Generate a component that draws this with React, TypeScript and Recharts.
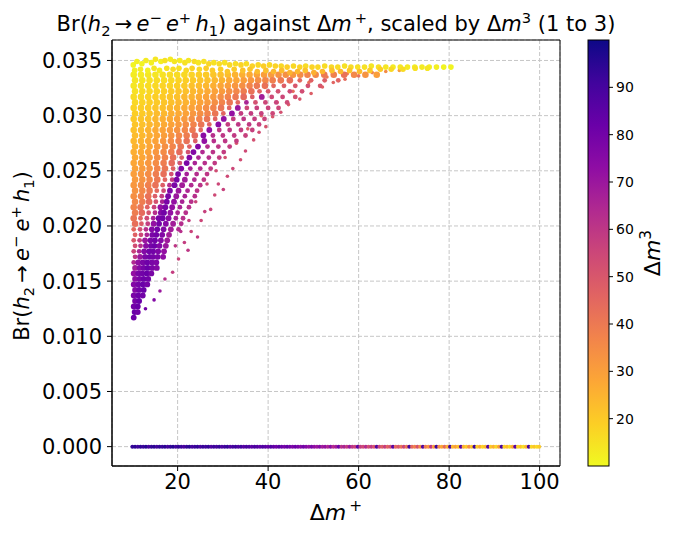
import { ScatterChart, Scatter, XAxis, YAxis, CartesianGrid, ReferenceArea } from "recharts";

const xTicks = [20, 40, 60, 80, 100];
const yTicks = [0, 0.005, 0.01, 0.015, 0.02, 0.025, 0.03, 0.035];
const colorTicks = [20, 30, 40, 50, 60, 70, 80, 90];

// [Δm+, Br, Δm3] - the thin saturated strip along the top
const topBand: [number, number, number][] = [
  [10.2, 0.0346, 11], [11.0, 0.0349, 12], [12.1, 0.0347, 11], [13.0, 0.035, 13], [14.2, 0.0348, 12],
  [15.1, 0.0351, 14], [16.3, 0.0349, 12], [17.2, 0.035, 15], [18.4, 0.0351, 13], [19.3, 0.0349, 14],
  [20.5, 0.035, 13], [21.6, 0.0348, 15], [22.4, 0.035, 14], [23.7, 0.0349, 16], [24.6, 0.0348, 14],
  [25.8, 0.0349, 15], [26.9, 0.0347, 17], [28.0, 0.0348, 15], [29.2, 0.0347, 16], [30.4, 0.0348, 15],
  [31.5, 0.0346, 17], [32.8, 0.0347, 16], [34.0, 0.0346, 18], [35.2, 0.0347, 16], [36.5, 0.0345, 18],
  [37.8, 0.0346, 17], [39.0, 0.0345, 19], [40.3, 0.0346, 17], [41.6, 0.0345, 18], [42.9, 0.0345, 17],
  [44.2, 0.0344, 19], [45.6, 0.0345, 17], [47.0, 0.0344, 18], [48.3, 0.0345, 16], [49.7, 0.0344, 18],
  [51.0, 0.0344, 17], [52.5, 0.0345, 16], [54.0, 0.0344, 17], [55.4, 0.0344, 16], [56.9, 0.0345, 15],
  [58.3, 0.0344, 16], [59.8, 0.0344, 15], [61.3, 0.0344, 15], [62.8, 0.0345, 14], [64.4, 0.0344, 15],
  [66.0, 0.0344, 14], [67.6, 0.0344, 13], [69.2, 0.0344, 14], [70.8, 0.0344, 13], [72.4, 0.0344, 12],
  [74.0, 0.0344, 13], [75.6, 0.0344, 12], [77.2, 0.0344, 12], [78.8, 0.0344, 11], [80.4, 0.0344, 11],
  [10.5, 0.0341, 12], [11.8, 0.0342, 13], [13.4, 0.0341, 12], [14.8, 0.0343, 14], [16.0, 0.0341, 13],
  [17.6, 0.0343, 15], [19.0, 0.0342, 16], [20.3, 0.0343, 15], [21.9, 0.0341, 17], [23.2, 0.0343, 18],
  [24.8, 0.0342, 17], [26.3, 0.0343, 19], [27.7, 0.0341, 20], [29.5, 0.0342, 19], [31.0, 0.034, 21],
  [32.5, 0.0342, 20], [34.4, 0.0341, 22], [36.0, 0.0342, 21], [37.6, 0.034, 23], [39.5, 0.0341, 22],
  [41.2, 0.034, 24], [43.0, 0.0341, 23], [44.8, 0.0339, 25], [46.5, 0.034, 24], [48.2, 0.0341, 22],
  [50.1, 0.0339, 26], [52.0, 0.034, 24], [54.1, 0.0341, 22], [56.0, 0.034, 24], [58.0, 0.0341, 21],
  [60.2, 0.034, 23], [62.5, 0.0341, 20], [64.8, 0.0342, 19], [67.2, 0.0342, 17], [69.8, 0.0342, 16],
  [72.5, 0.0343, 15], [75.2, 0.0343, 14],
];

// main cloud, read row by row: [Br, [[Δm+, Δm3], ...]]
const cloudRows: [number, [number, number][]][] = [
  [0.0337, [[10.3, 13], [11.9, 13], [13.5, 14], [15.1, 14], [16.7, 15], [18.3, 16], [19.9, 16], [21.5, 17], [23.1, 18], [24.7, 19], [26.3, 20], [27.9, 21], [29.5, 22], [31.1, 23], [32.7, 25], [34.3, 26], [35.9, 27], [37.5, 29], [39.1, 30], [40.7, 31], [42.3, 33], [43.9, 34], [45.5, 32], [47.1, 35], [48.7, 37], [50.5, 36], [52.4, 40], [54.5, 38], [56.8, 42], [59.0, 36], [61.5, 33], [64.0, 30]]],
  [0.0332, [[10.6, 14], [12.2, 14], [13.8, 15], [15.4, 16], [17.0, 16], [18.6, 17], [20.2, 18], [21.8, 19], [23.4, 20], [25.0, 21], [26.6, 22], [28.2, 24], [29.8, 25], [31.4, 27], [33.0, 28], [34.6, 30], [36.2, 32], [37.8, 34], [39.4, 36], [41.0, 38], [42.8, 40], [44.8, 43], [47.0, 45], [49.5, 47], [52.5, 48], [55.5, 46]]],
  [0.0327, [[10.3, 14], [11.9, 15], [13.5, 16], [15.1, 17], [16.7, 18], [18.3, 18], [19.9, 19], [21.5, 20], [23.1, 22], [24.7, 23], [26.3, 24], [27.9, 26], [29.5, 28], [31.1, 30], [32.7, 32], [34.3, 34], [35.9, 37], [37.5, 40], [39.3, 42], [41.2, 45], [43.5, 48], [46.0, 50], [48.8, 52], [51.5, 50]]],
  [0.0322, [[10.6, 15], [12.2, 16], [13.8, 17], [15.4, 18], [17.0, 19], [18.6, 20], [20.2, 21], [21.8, 22], [23.4, 24], [25.0, 25], [26.6, 27], [28.2, 29], [29.8, 31], [31.4, 34], [33.0, 36], [34.6, 39], [36.3, 42], [38.1, 46], [40.0, 50], [42.2, 52], [44.8, 54], [47.5, 53]]],
  [0.0317, [[10.3, 16], [11.9, 17], [13.5, 18], [15.1, 19], [16.7, 20], [18.3, 21], [19.9, 22], [21.5, 24], [23.1, 25], [24.7, 27], [26.3, 29], [27.9, 31], [29.5, 34], [31.1, 37], [32.8, 40], [34.6, 44], [36.5, 48], [38.6, 68], [40.8, 54], [43.2, 55], [46.0, 52]]],
  [0.0312, [[10.6, 17], [12.2, 18], [13.8, 19], [15.4, 20], [17.0, 21], [18.6, 22], [20.2, 24], [21.8, 25], [23.4, 27], [25.0, 29], [26.6, 31], [28.2, 34], [29.8, 37], [31.5, 41], [33.3, 45], [35.2, 66], [37.2, 52], [39.4, 55], [41.8, 56], [44.2, 54]]],
  [0.0307, [[10.3, 18], [11.9, 19], [13.5, 20], [15.1, 21], [16.7, 22], [18.3, 24], [19.9, 25], [21.5, 27], [23.1, 29], [24.7, 31], [26.3, 34], [27.9, 37], [29.6, 41], [31.4, 46], [33.3, 70], [35.3, 55], [37.5, 57], [40.0, 56], [42.3, 55]]],
  [0.0302, [[10.6, 19], [12.2, 20], [13.8, 21], [15.4, 23], [17.0, 24], [18.6, 26], [20.2, 27], [21.8, 29], [23.4, 32], [25.0, 34], [26.6, 37], [28.3, 41], [30.1, 46], [32.0, 72], [34.0, 58], [36.2, 58], [38.5, 57], [41.0, 55]]],
  [0.0297, [[10.3, 20], [11.9, 21], [13.5, 22], [15.1, 24], [16.7, 26], [18.3, 27], [19.9, 29], [21.5, 31], [23.1, 34], [24.8, 37], [26.5, 41], [28.3, 46], [30.2, 72], [32.3, 58], [34.6, 60], [37.0, 58], [39.2, 56]]],
  [0.0292, [[10.6, 21], [12.2, 22], [13.8, 24], [15.4, 25], [17.0, 27], [18.6, 29], [20.2, 31], [21.8, 34], [23.5, 37], [25.2, 41], [27.0, 46], [29.0, 74], [31.1, 58], [33.4, 60], [35.8, 59], [38.0, 57]]],
  [0.0287, [[10.3, 22], [11.9, 23], [13.5, 25], [15.1, 27], [16.7, 29], [18.3, 31], [19.9, 33], [21.6, 36], [23.3, 40], [25.1, 45], [27.0, 72], [29.2, 60], [31.5, 60], [34.0, 58], [36.5, 57]]],
  [0.0282, [[10.6, 23], [12.2, 24], [13.8, 26], [15.4, 28], [17.0, 30], [18.6, 33], [20.3, 36], [22.0, 39], [23.8, 44], [25.7, 74], [27.8, 62], [30.0, 60], [32.5, 59], [35.0, 57]]],
  [0.0277, [[10.3, 24], [11.9, 25], [13.5, 27], [15.1, 29], [16.8, 32], [18.5, 35], [20.2, 38], [22.0, 42], [23.9, 48], [25.9, 72], [28.0, 62], [30.5, 60], [33.0, 58]]],
  [0.0272, [[10.6, 25], [12.2, 26], [13.8, 28], [15.5, 31], [17.2, 34], [18.9, 37], [20.7, 41], [22.6, 47], [24.5, 76], [26.6, 63], [29.0, 60], [31.5, 58]]],
  [0.0267, [[10.3, 26], [11.9, 27], [13.5, 29], [15.2, 32], [16.9, 35], [18.6, 39], [20.4, 44], [22.3, 52], [23.5, 76], [25.5, 64], [27.8, 61], [30.2, 58]]],
  [0.0262, [[10.6, 27], [12.2, 28], [13.8, 31], [15.5, 34], [17.2, 37], [19.0, 42], [20.9, 48], [22.6, 76], [24.6, 65], [26.9, 62], [29.2, 58]]],
  [0.0257, [[10.3, 28], [11.9, 29], [13.5, 32], [15.2, 35], [16.9, 39], [18.7, 44], [20.5, 52], [22.0, 78], [23.8, 66], [26.0, 62], [28.2, 59]]],
  [0.0252, [[10.6, 29], [12.2, 31], [13.8, 33], [15.5, 37], [17.2, 41], [19.0, 47], [20.8, 76], [22.8, 66], [25.0, 63], [27.3, 59]]],
  [0.0247, [[10.3, 30], [11.9, 32], [13.5, 35], [15.2, 39], [16.9, 43], [18.6, 52], [20.1, 78], [22.0, 67], [24.2, 63], [26.5, 60]]],
  [0.0242, [[10.6, 31], [12.2, 33], [13.8, 36], [15.5, 40], [17.2, 46], [18.8, 58], [19.8, 78], [21.6, 68], [23.7, 64], [25.8, 60]]],
  [0.0237, [[10.3, 32], [11.9, 34], [13.5, 38], [15.1, 42], [16.7, 48], [18.2, 62], [19.3, 78], [21.0, 68], [23.0, 64], [25.0, 61]]],
  [0.0232, [[10.6, 33], [12.2, 36], [13.8, 40], [15.4, 45], [16.9, 54], [18.3, 77], [20.2, 70], [22.2, 65], [24.3, 61]]],
  [0.0227, [[10.3, 34], [11.9, 37], [13.5, 42], [15.0, 48], [16.5, 58], [17.9, 78], [19.7, 70], [21.6, 66], [23.8, 62]]],
  [0.0222, [[10.6, 36], [12.2, 39], [13.7, 44], [15.2, 52], [16.6, 66], [17.6, 78], [19.2, 72], [21.0, 66], [23.0, 62]]],
  [0.0217, [[10.3, 37], [11.8, 41], [13.3, 47], [14.8, 56], [16.2, 72], [17.3, 78], [18.8, 72], [20.5, 66], [22.5, 62]]],
  [0.0212, [[10.6, 39], [12.1, 44], [13.6, 51], [15.0, 62], [16.3, 76], [17.0, 80], [18.4, 72], [20.0, 66], [21.8, 62]]],
  [0.0207, [[10.3, 41], [11.8, 46], [13.2, 54], [14.6, 66], [15.8, 78], [16.7, 80], [18.0, 74], [19.6, 67], [21.2, 62]]],
  [0.0202, [[10.6, 43], [12.0, 49], [13.4, 58], [14.7, 72], [15.9, 79], [17.4, 75], [19.0, 68], [20.8, 63]]],
  [0.0197, [[10.3, 45], [11.7, 52], [13.0, 62], [14.3, 76], [15.5, 80], [16.9, 76], [18.5, 68], [20.2, 64]]],
  [0.0192, [[10.6, 47], [11.9, 55], [13.2, 66], [14.4, 78], [15.3, 80], [16.6, 76], [18.1, 68]]],
  [0.0187, [[10.3, 50], [11.6, 58], [12.8, 70], [14.0, 78], [15.0, 80], [16.3, 75], [17.7, 69]]],
  [0.0182, [[10.6, 53], [11.8, 62], [13.0, 74], [14.1, 79], [14.9, 81], [16.0, 76], [17.4, 70]]],
  [0.0177, [[10.3, 56], [11.5, 66], [12.6, 76], [13.7, 80], [14.6, 80], [15.7, 77], [17.0, 72]]],
  [0.0172, [[10.6, 60], [11.7, 70], [12.8, 78], [13.8, 80], [14.6, 79], [15.6, 78], [16.8, 73]]],
  [0.0167, [[10.3, 64], [11.3, 72], [12.3, 78], [13.3, 81], [14.3, 78], [15.3, 77]]],
  [0.0162, [[10.6, 68], [11.6, 75], [12.5, 79], [13.4, 82], [14.4, 78], [15.4, 76]]],
  [0.0157, [[10.3, 72], [11.3, 78], [12.2, 80], [13.2, 82], [14.2, 78]]],
  [0.0152, [[10.6, 74], [11.6, 78], [12.5, 81], [13.5, 80]]],
  [0.0147, [[10.3, 76], [11.3, 79], [12.3, 82], [13.3, 79]]],
  [0.0142, [[10.6, 76], [11.5, 80], [12.5, 82]]],
  [0.0137, [[10.3, 78], [11.3, 81], [12.3, 80]]],
  [0.0132, [[10.6, 79], [11.5, 82]]],
  [0.0127, [[10.3, 80], [11.2, 82]]],
  [0.0122, [[10.5, 82], [11.2, 80]]],
  [0.0117, [[10.3, 81]]],
];

// loose red/pink points on the lower-right edge of the cloud
const sparseTail: [number, number, number][] = [
  [18.9, 0.0158, 58], [20.2, 0.017, 56], [21.5, 0.0185, 58], [22.3, 0.0178, 60], [23.0, 0.0195, 56],
  [24.4, 0.019, 58], [25.2, 0.0205, 55], [26.0, 0.0213, 57], [27.3, 0.0215, 56], [28.2, 0.0228, 54],
  [29.0, 0.0238, 55], [30.1, 0.0233, 57], [31.0, 0.0245, 54], [32.2, 0.0252, 55], [33.9, 0.026, 53],
  [35.0, 0.0268, 54], [36.8, 0.0278, 52], [38.0, 0.0285, 53], [39.5, 0.029, 51], [41.0, 0.0299, 50],
  [42.8, 0.0303, 52], [44.5, 0.031, 49], [47.0, 0.0315, 50], [49.5, 0.032, 48], [52.0, 0.0326, 47],
  [54.4, 0.033, 46], [57.0, 0.0333, 44], [60.0, 0.0336, 42], [63.0, 0.0339, 38], [66.0, 0.034, 35],
  [69.0, 0.0341, 30], [20.7, 0.0195, 62], [22.5, 0.0205, 58], [19.5, 0.0182, 60], [24.0, 0.0222, 56],
  [26.5, 0.0238, 55], [28.5, 0.025, 53], [30.5, 0.0262, 52], [33.0, 0.0275, 50], [35.5, 0.0288, 49],
  [38.5, 0.03, 47], [42.0, 0.0312, 46], [45.5, 0.0322, 44], [49.0, 0.033, 42], [53.0, 0.0335, 40],
  [57.5, 0.0338, 38], [17.2, 0.0152, 62], [16.1, 0.0141, 70], [14.8, 0.0133, 76], [12.9, 0.0125, 80],
];

// Br = 0 branch: [Δm+, Δm3]
const zeroBranch: [number, number][] = [
  [10.0, 93], [10.6, 95], [11.2, 91], [11.8, 94], [12.4, 92], [13.0, 96], [13.6, 90], [14.2, 93], [14.8, 95],
  [15.4, 91], [16.0, 94], [16.6, 92], [17.2, 95], [17.8, 90], [18.4, 93], [19.0, 96], [19.6, 91], [20.2, 94],
  [20.8, 92], [21.4, 89], [22.0, 93], [22.6, 95], [23.2, 90], [23.8, 92], [24.4, 94], [25.0, 89], [25.6, 93],
  [26.2, 91], [26.8, 94], [27.4, 88], [28.0, 92], [28.6, 90], [29.2, 93], [29.8, 88], [30.4, 91], [31.0, 93],
  [31.6, 87], [32.2, 90], [32.8, 92], [33.4, 88], [34.0, 91], [34.6, 86], [35.2, 90], [35.8, 88], [36.4, 85],
  [37.0, 89], [37.6, 87], [38.2, 84], [38.8, 88], [39.4, 86], [40.0, 83], [40.6, 87], [41.2, 84], [41.8, 81],
  [42.4, 86], [43.0, 82], [43.6, 79], [44.2, 84], [44.8, 80], [45.4, 77], [46.0, 82], [46.6, 78], [47.2, 75],
  [47.8, 80], [48.4, 76], [49.0, 72], [49.6, 78], [50.2, 73], [50.8, 70], [51.4, 76], [52.0, 68], [52.6, 72],
  [53.2, 65], [53.8, 74], [54.4, 63], [55.0, 68], [55.6, 82], [56.2, 61], [56.8, 66], [57.4, 58], [58.0, 70],
  [58.6, 60], [59.2, 56], [59.8, 85], [60.4, 58], [61.0, 54], [61.6, 64], [62.2, 52], [62.8, 60], [63.4, 50],
  [64.0, 88], [64.6, 55], [65.2, 48], [65.8, 58], [66.4, 46], [67.0, 52], [67.6, 86], [68.2, 44], [68.8, 50],
  [69.4, 42], [70.0, 56], [70.6, 40], [71.2, 90], [71.8, 45], [72.4, 38], [73.0, 52], [73.6, 35], [74.2, 88],
  [74.8, 40], [75.4, 32], [76.0, 60], [76.6, 30], [77.2, 92], [77.8, 34], [78.4, 28], [79.0, 45], [79.6, 26],
  [80.2, 90], [80.8, 24], [81.4, 30], [82.0, 22], [82.6, 86], [83.2, 26], [83.8, 20], [84.4, 35], [85.0, 22],
  [85.6, 92], [86.2, 19], [86.8, 28], [87.4, 18], [88.0, 24], [88.6, 88], [89.2, 20], [89.8, 26], [90.4, 17],
  [91.0, 30], [91.6, 90], [92.2, 19], [92.8, 23], [93.4, 16], [94.0, 28], [94.6, 86], [95.2, 18], [95.8, 22],
  [96.4, 15], [97.0, 25], [97.6, 90], [98.2, 17], [98.8, 21], [99.4, 16], [99.9, 20],
];

// matplotlib "plasma", used reversed (low Δm3 = yellow)
const PLASMA = ["#0d0887", "#41049d", "#6a00a8", "#8f0da4", "#b12a90", "#cc4778", "#e16462", "#f2844b", "#fca636", "#fcce25", "#f0f921"];
const C_MIN = 10;
const C_MAX = 100;

const hex = (h: string) => [1, 3, 5].map((i) => parseInt(h.slice(i, i + 2), 16));

const plasma = (v: number) => {
  const t = Math.min(1, Math.max(0, 1 - (v - C_MIN) / (C_MAX - C_MIN)));
  const p = t * (PLASMA.length - 1);
  const i = Math.min(PLASMA.length - 2, Math.floor(p));
  const f = p - i;
  const a = hex(PLASMA[i]);
  const b = hex(PLASMA[i + 1]);
  const c = a.map((ai, k) => Math.round(ai + (b[k] - ai) * f));
  return `rgb(${c[0]},${c[1]},${c[2]})`;
};

const topPts = topBand.map(([x, y, c]) => ({ x, y, c }));
const cloudPts = cloudRows.flatMap(([y, row]) => row.map(([x, c]) => ({ x, y, c })));
const tailPts = sparseTail.map(([x, y, c]) => ({ x, y, c }));
const zeroPts = zeroBranch.map(([x, c]) => ({ x, y: 0, c }));

const FONT = "DejaVu Sans, sans-serif";
const X_DOMAIN: [number, number] = [5.5, 104.5];
const Y_DOMAIN: [number, number] = [-0.001755, 0.036855];

const dot = (r: number) => (p: any) => <circle cx={p.cx} cy={p.cy} r={r} fill={plasma(p.payload.c)} />;
// the orange/yellow body and the purple tip are dense, the pink fringe is sparse
const cloudDot = (p: any) => {
  const c = p.payload.c;
  const r = c < 45 ? 3.3 : c < 68 ? 2.4 : 2.9;
  return <circle cx={p.cx} cy={p.cy} r={r} fill={plasma(c)} />;
};

type Seg = { t: string; i?: boolean; sub?: boolean; sup?: boolean };

const MathText = ({ x, y, size, segs, rotate = 0 }: { x: number; y: number; size: number; segs: Seg[]; rotate?: number }) => {
  let shift = 0;
  return (
    <text
      x={x}
      y={y}
      fontSize={size}
      fontFamily={FONT}
      textAnchor="middle"
      fill="#000"
      style={{ whiteSpace: "pre" }}
      transform={rotate ? `rotate(${rotate} ${x} ${y})` : undefined}
    >
      {segs.map((s, k) => {
        const target = s.sub ? size * 0.22 : s.sup ? -size * 0.4 : 0;
        const dy = target - shift;
        shift = target;
        return (
          <tspan key={k} dy={dy} fontStyle={s.i ? "italic" : undefined} fontSize={s.sub || s.sup ? size * 0.7 : size}>
            {s.t}
          </tspan>
        );
      })}
    </text>
  );
};

const brSegs: Seg[] = [
  { t: "Br(" }, { t: "h", i: true }, { t: "2", sub: true }, { t: "\u2009\u2192\u2009" },
  { t: "e", i: true }, { t: "\u2212", sup: true }, { t: "\u2009" }, { t: "e", i: true }, { t: "+", sup: true },
  { t: "\u2009" }, { t: "h", i: true }, { t: "1", sub: true }, { t: ")" },
];

const titleSegs: Seg[] = [
  ...brSegs,
  { t: " against \u0394" }, { t: "m", i: true }, { t: "\u2009+", sup: true },
  { t: ", scaled by \u0394" }, { t: "m", i: true }, { t: "3", sup: true }, { t: " (1 to 3)" },
];

const CB = { x: 588, w: 21, top: 40, bottom: 466 };
const cbY = (v: number) => CB.bottom - ((v - C_MIN) / (C_MAX - C_MIN)) * (CB.bottom - CB.top);

export default function App() {
  return (
    <div style={{ position: "absolute", left: 0, top: 0, width: 677, height: 535, background: "#fff" }}>
      <ScatterChart width={677} height={535} margin={{ top: 40, right: 117, bottom: 19, left: 32 }}>
        <CartesianGrid stroke="#c6c6c6" strokeDasharray="4 2" />
        <XAxis
          type="number"
          dataKey="x"
          domain={X_DOMAIN}
          ticks={xTicks}
          allowDataOverflow
          height={50}
          tickSize={5}
          tickMargin={3}
          axisLine={{ stroke: "#000" }}
          tickLine={{ stroke: "#000" }}
          tick={{ fill: "#000", fontSize: 21, fontFamily: FONT }}
        />
        <YAxis
          type="number"
          dataKey="y"
          domain={Y_DOMAIN}
          ticks={yTicks}
          allowDataOverflow
          width={80}
          tickSize={5}
          tickMargin={5}
          axisLine={{ stroke: "#000" }}
          tickLine={{ stroke: "#000" }}
          tickFormatter={(v: number) => v.toFixed(3)}
          tick={{ fill: "#000", fontSize: 21, fontFamily: FONT }}
        />
        <Scatter data={zeroPts} shape={dot(2)} isAnimationActive={false} />
        <Scatter data={tailPts} shape={dot(1.8)} isAnimationActive={false} />
        <Scatter data={cloudPts} shape={cloudDot} isAnimationActive={false} />
        <Scatter data={topPts} shape={dot(2.8)} isAnimationActive={false} />
        <ReferenceArea
          x1={X_DOMAIN[0]}
          x2={X_DOMAIN[1]}
          y1={Y_DOMAIN[0]}
          y2={Y_DOMAIN[1]}
          fill="none"
          stroke="#000"
          strokeWidth={1}
          ifOverflow="visible"
        />
      </ScatterChart>
      <svg width={677} height={535} style={{ position: "absolute", left: 0, top: 0, pointerEvents: "none" }}>
        <MathText x={336} y={31} size={21} segs={titleSegs} />
        <MathText x={336} y={520} size={22} segs={[{ t: "\u0394" }, { t: "m", i: true }, { t: "\u2009+", sup: true }]} />
        <MathText x={29} y={256} size={21} segs={brSegs} rotate={-90} />
        <defs>
          <linearGradient id="cbar" x1="0" y1="0" x2="0" y2="1">
            {PLASMA.map((c, i) => (
              <stop key={i} offset={`${(i / (PLASMA.length - 1)) * 100}%`} stopColor={c} />
            ))}
          </linearGradient>
        </defs>
        <rect x={CB.x} y={CB.top} width={CB.w} height={CB.bottom - CB.top} fill="url(#cbar)" stroke="#000" strokeWidth={1} />
        {colorTicks.map((v) => (
          <g key={v}>
            <line x1={CB.x + CB.w} x2={CB.x + CB.w + 4} y1={cbY(v)} y2={cbY(v)} stroke="#000" />
            <text x={CB.x + CB.w + 7} y={cbY(v)} dy="0.35em" fontSize={14} fontFamily={FONT} fill="#000">
              {v}
            </text>
          </g>
        ))}
        <MathText x={660} y={253} size={22} segs={[{ t: "\u0394" }, { t: "m", i: true }, { t: "3", sup: true }]} rotate={-90} />
      </svg>
    </div>
  );
}
